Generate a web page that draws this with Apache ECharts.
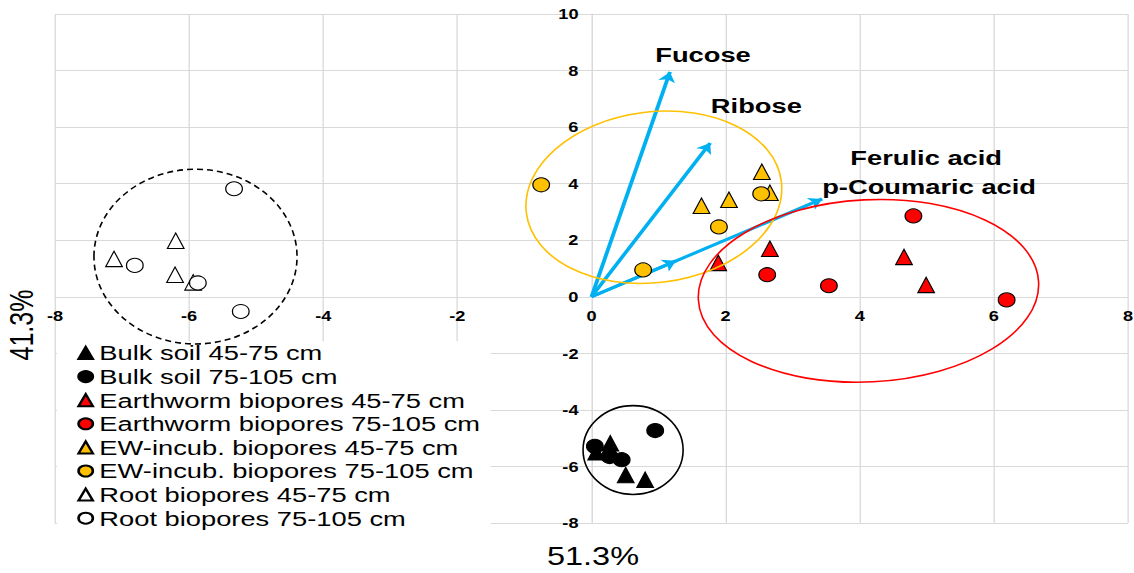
<!DOCTYPE html>
<html><head><meta charset="utf-8">
<script src="https://cdn.jsdelivr.net/npm/echarts@6/dist/echarts.min.js"></script>
<style>
html,body{margin:0;padding:0;background:#fff;overflow:hidden}
#wrap{width:1134px;height:573px;overflow:hidden;position:relative}
#c{width:872px;height:573px;transform:scaleX(1.30046);transform-origin:0 0}
</style>
</head><body><div id="wrap"><div id="c"></div></div>
<script>
// ---- data ----
const xTicks = [-8, 8, 2];   // min, max, interval
const yTicks = [-8, 10, 2];
const seriesNames = [
  'Bulk soil 45-75 cm', 'Bulk soil 75-105 cm',
  'Earthworm biopores 45-75 cm', 'Earthworm biopores 75-105 cm',
  'EW-incub. biopores 45-75 cm', 'EW-incub. biopores 75-105 cm',
  'Root biopores 45-75 cm', 'Root biopores 75-105 cm'
];
const bulk45 = [[0.28, -5.18], [0.07, -5.50], [0.51, -6.30], [0.80, -6.47]];
const bulk75 = [[0.05, -5.29], [0.27, -5.65], [0.45, -5.76], [0.95, -4.73]];
const ew45   = [[1.89, 1.20], [2.66, 1.70], [4.66, 1.41], [4.99, 0.42]];
const ew75   = [[2.62, 0.78], [3.54, 0.39], [4.80, 2.86], [6.19, -0.11]];
const ewi45  = [[1.64, 3.22], [2.05, 3.43], [2.54, 4.42], [2.66, 3.68]];
const ewi75  = [[-0.75, 3.96], [0.77, 0.95], [1.90, 2.47], [2.53, 3.64]];
const root45 = [[-7.12, 1.34], [-6.20, 1.98], [-6.21, 0.78], [-5.94, 0.51]];
const root75 = [[-5.33, 3.82], [-6.81, 1.11], [-5.87, 0.49], [-5.23, -0.52]];
const vectorNames = ['Fucose', 'Ribose', 'Ferulic acid', 'p-Coumaric acid'];
const vectorTips = [[1.17, 7.95], [1.77, 5.44], [3.44, 3.46], [1.26, 1.27]];
const vectorLabelAnchors = [[0.95, 8.55], [1.78, 6.75], [3.86, 4.91], [3.44, 3.89]];
// ellipses: centre x, centre y, radius x, radius y, tilt (deg)
const ellipses = [[-5.905, 1.42, 1.514, 3.09, 0], [0.93, 3.52, 1.916, 3.02, 7], [4.13, 0.21, 2.54, 3.22, 3], [0.62, -5.42, 0.746, 1.57, 0]];
const axisTitles = ['51.3%', '41.3%'];

// ---- layout / styles ----
const S = 1.30046;
const W = 872, H = 573;
const G = {left: 55 / S, right: 6 / S, top: 14, bottom: 50};
const gridW = W - G.left - G.right, gridH = H - G.top - G.bottom;
// move axes to cross at the origin
const yAxisOffset = -gridW * (0 - xTicks[0]) / (xTicks[1] - xTicks[0]);
const xAxisOffset = -gridH * (0 - yTicks[0]) / (yTicks[1] - yTicks[0]);
const FONT = 'Liberation Sans, Arial, sans-serif';
const seriesData = [bulk45, bulk75, ew45, ew75, ewi45, ewi75, root45, root75];
const fills = ['#000000', '#000000', '#FF0000', '#FF0000', '#FFC000', '#FFC000', '#FFFFFF', '#FFFFFF'];
const ellipseStyles = [
  {stroke: '#000', lineDash: [6, 4]},
  {stroke: '#FFC000', lineDash: null},
  {stroke: '#FF0000', lineDash: null},
  {stroke: '#000', lineDash: null}
];

const pointSeries = seriesData.map((d, i) => {
  const tri = i % 2 === 0;
  return {
    name: seriesNames[i], type: 'scatter', data: d, z: 3,
    symbol: tri ? 'triangle' : 'circle',
    symbolSize: tri ? [12.8, 15.5] : [12.8, 14],
    itemStyle: {color: fills[i], borderColor: '#000', borderWidth: 1, opacity: 1},
    emphasis: {disabled: true}
  };
});

const chart = echarts.init(document.getElementById('c'), null, {renderer: 'svg'});
chart.setOption({
  animation: false,
  backgroundColor: '#fff',
  grid: {left: G.left, right: G.right, top: G.top, bottom: G.bottom, containLabel: false, outerBoundsMode: 'none'},
  xAxis: {
    type: 'value', min: xTicks[0], max: xTicks[1], interval: xTicks[2],
    position: 'bottom', offset: xAxisOffset,
    axisLine: {show: true, onZero: false, lineStyle: {color: '#D9D9D9', width: 1}},
    axisTick: {show: false},
    splitLine: {show: true, lineStyle: {color: '#D9D9D9', width: 1}},
    axisLabel: {color: '#000', fontWeight: 'bold', fontSize: 14, fontFamily: FONT, margin: 12}
  },
  yAxis: {
    type: 'value', min: yTicks[0], max: yTicks[1], interval: yTicks[2],
    position: 'left', offset: yAxisOffset,
    axisLine: {show: true, onZero: false, lineStyle: {color: '#D9D9D9', width: 1}},
    axisTick: {show: false},
    splitLine: {show: true, lineStyle: {color: '#D9D9D9', width: 1}},
    axisLabel: {color: '#000', fontWeight: 'bold', fontSize: 14, fontFamily: FONT, margin: 10}
  },
  legend: {
    data: seriesNames, orient: 'vertical', left: 43.8, top: 341.2,
    padding: [0, 8, 6, 15.6], itemGap: 0, itemWidth: 11, itemHeight: 12,
    backgroundColor: '#fff', selectedMode: false, z: 4,
    textStyle: {color: '#000', fontSize: 21, fontFamily: FONT, lineHeight: 23.6}
  },
  graphic: [
    {type: 'text', x: 456, y: 556.5, z: 10,
     style: {text: axisTitles[0], fontSize: 25, fontFamily: FONT, fill: '#000', align: 'center', verticalAlign: 'middle', textAlign: 'center', textVerticalAlign: 'middle'}},
    {type: 'text', x: 16.9, y: 325, rotation: Math.PI / 2, z: 10,
     style: {text: axisTitles[1], fontSize: 25, fontFamily: FONT, fill: '#000', align: 'center', verticalAlign: 'middle', textAlign: 'center', textVerticalAlign: 'middle'}}
  ],
  series: [
    {
      type: 'lines', coordinateSystem: 'cartesian2d', z: 2, silent: true,
      symbol: ['none', 'arrow'], symbolSize: 10,
      lineStyle: {color: '#00B0F0', width: 3, opacity: 1, curveness: 0},
      data: vectorTips.map(t => ({coords: [[0, 0], t]}))
    },
    {
      type: 'scatter', z: 4, silent: true, symbolSize: 0,
      emphasis: {disabled: true},
      data: vectorLabelAnchors.map((p, i) => ({value: p, name: vectorNames[i]})),
      label: {show: true, position: 'right', distance: 0, formatter: '{b}', color: '#000',
              opacity: 1, textBorderWidth: 0,
              fontSize: 21, fontWeight: 'bold', fontFamily: FONT}
    }
  ].concat(pointSeries).concat([
    {
      type: 'custom', z: 5, silent: true, data: ellipses,
      renderItem: function (params, api) {
        const c = api.coord([api.value(0), api.value(1)]);
        const sz = api.size([api.value(2), api.value(3)]);
        const st = ellipseStyles[params.dataIndex];
        return {
          type: 'group', x: c[0], y: c[1], scaleX: 1 / S,
          children: [{
            type: 'ellipse',
            rotation: api.value(4) * Math.PI / 180,
            shape: {cx: 0, cy: 0, rx: sz[0] * S, ry: sz[1]},
            style: {fill: 'none', stroke: st.stroke, lineWidth: 1.6, lineDash: st.lineDash}
          }]
        };
      }
    }
  ])
});
</script>
</body></html>
